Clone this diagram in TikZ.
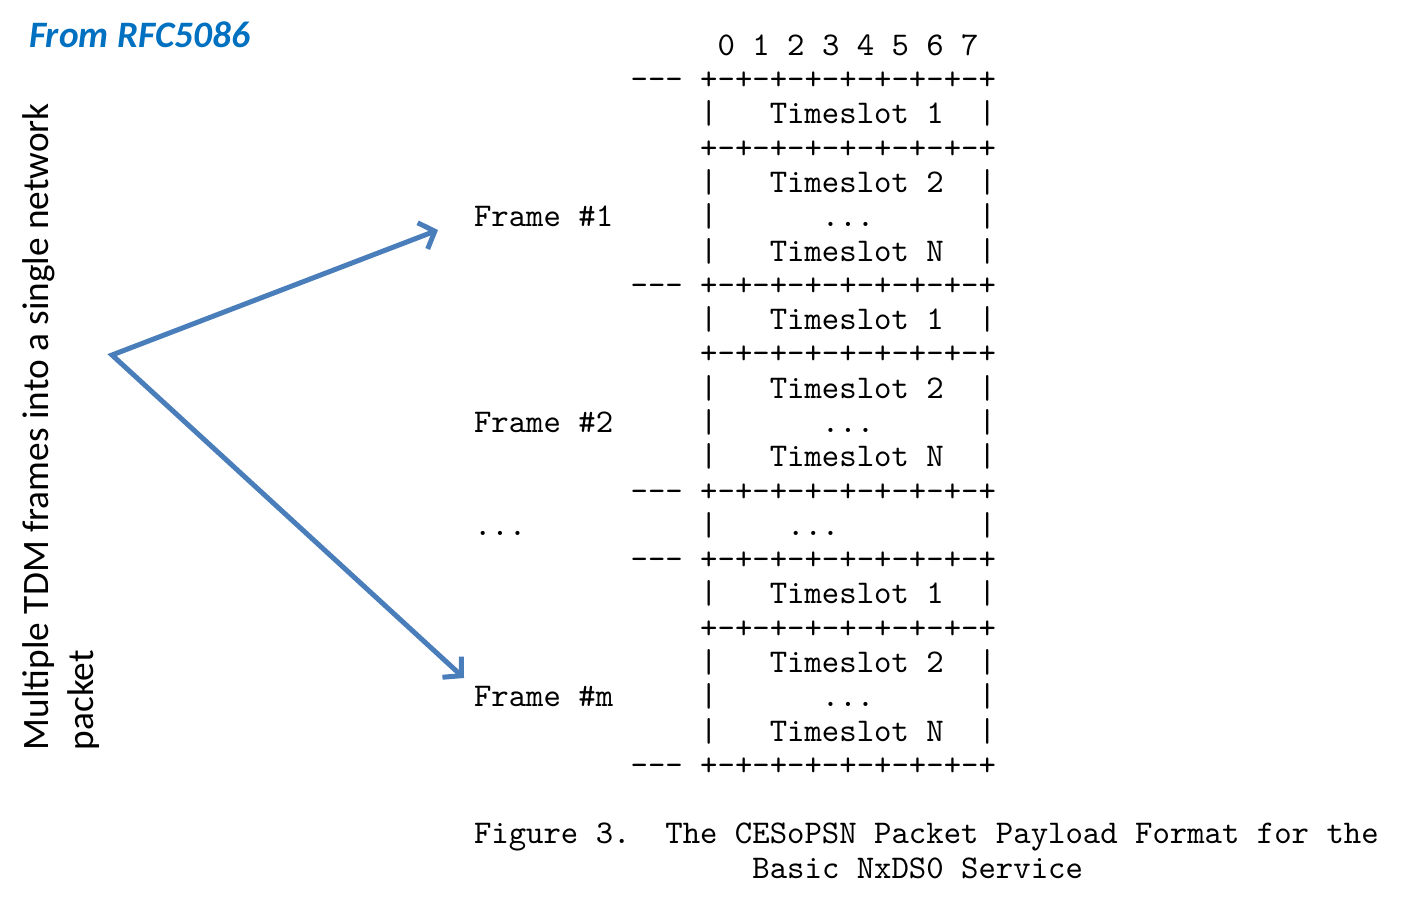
\documentclass[tikz,border=0pt]{standalone}
\usepackage{fontspec}
\newfontfamily\calibri{Carlito}
\newfontfamily\mono{lmmono10-regular}[Extension=.otf]
\usetikzlibrary{arrows.meta}
\definecolor{titleblue}{HTML}{0070C0}
\definecolor{arrowblue}{HTML}{4A7EBB}
\newcommand\tdash{-\kern0pt-\kern0pt-}
\newcommand\sepline{+-+-+-+-+-+-+-+-+}
\newcommand\mt[4]{\node[tt] (#1) at ({474+17.4*#2},{55.3+34.29*#3}) {#4};}
\tikzset{
  tt/.style={anchor=base west, inner sep=0pt, outer sep=0pt, font=\mono\fontsize{33.14}{40}\selectfont},
  side/.style={anchor=base west, inner sep=0pt, outer sep=0pt, rotate=90, font=\calibri\fontsize{37.3}{44}\selectfont},
  linkarrow/.style={draw=arrowblue, line width=5pt, line join=miter,
    {Straight Barb[length=13pt,width=28pt]}-{Straight Barb[length=13pt,width=28pt]}},
}
\begin{document}
\begin{tikzpicture}[x=1pt,y=-1pt]
\useasboundingbox (0,0) rectangle (1402,898);
\node[anchor=base west, inner sep=0pt, text=titleblue, font=\calibri\bfseries\itshape\fontsize{37.3}{42}\selectfont] (title) at (29,47) {From RFC5086};
\node[side] (lab1) at (48,750) {Multiple TDM frames into a single network};
\node[side] (lab2) at (93,750) {packet};
% bit numbers
\mt{bits}{14}{0}{0 1 2 3 4 5 6 7}
% frame 1
\mt{d1}{9}{1}{\tdash\ \sepline}
\mt{f1a}{13}{2}{|\ \ \ Timeslot 1\ \ |}
\mt{f1b}{13}{3}{\sepline}
\mt{f1c}{13}{4}{|\ \ \ Timeslot 2\ \ |}
\mt{fr1}{0}{5}{Frame \#1}
\mt{f1d}{13}{5}{|\ \ \ \ \ \ ...\ \ \ \ \ \ |}
\mt{f1e}{13}{6}{|\ \ \ Timeslot N\ \ |}
% frame 2
\mt{d2}{9}{7}{\tdash\ \sepline}
\mt{f2a}{13}{8}{|\ \ \ Timeslot 1\ \ |}
\mt{f2b}{13}{9}{\sepline}
\mt{f2c}{13}{10}{|\ \ \ Timeslot 2\ \ |}
\mt{fr2}{0}{11}{Frame \#2}
\mt{f2d}{13}{11}{|\ \ \ \ \ \ ...\ \ \ \ \ \ |}
\mt{f2e}{13}{12}{|\ \ \ Timeslot N\ \ |}
% gap
\mt{d3}{9}{13}{\tdash\ \sepline}
\mt{dots}{0}{14}{...}
\mt{gd}{13}{14}{|\ \ \ \ ...\ \ \ \ \ \ \ \ |}
% frame m
\mt{d4}{9}{15}{\tdash\ \sepline}
\mt{fma}{13}{16}{|\ \ \ Timeslot 1\ \ |}
\mt{fmb}{13}{17}{\sepline}
\mt{fmc}{13}{18}{|\ \ \ Timeslot 2\ \ |}
\mt{frm}{0}{19}{Frame \#m}
\mt{fmd}{13}{19}{|\ \ \ \ \ \ ...\ \ \ \ \ \ |}
\mt{fme}{13}{20}{|\ \ \ Timeslot N\ \ |}
\mt{d5}{9}{21}{\tdash\ \sepline}
% caption
\mt{cap1}{0}{23}{Figure 3.\ \ The CESoPSN Packet Payload Format for the}
\mt{cap2}{16}{24}{Basic NxDS0 Service}
% arrows
\coordinate (src) at (112,355);
\coordinate (t1) at (438,230);
\coordinate (t2) at (464,678);
\draw[linkarrow] (t1) -- (src) -- (t2);
\end{tikzpicture}
\end{document}
